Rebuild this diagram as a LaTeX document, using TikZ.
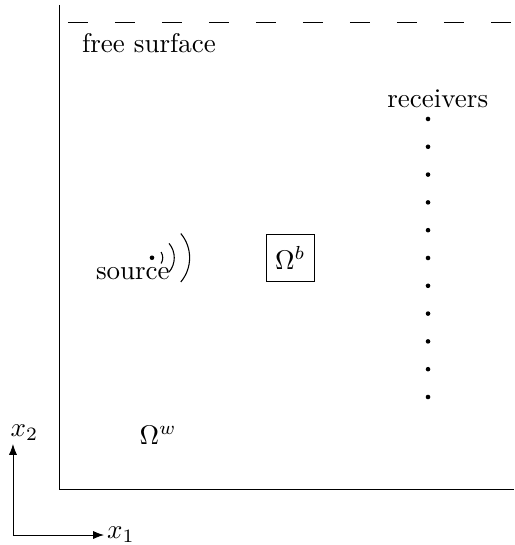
\documentclass[tikz,border=0pt]{standalone}
\usepackage{amsmath}
\usetikzlibrary{arrows.meta}

\begin{document}
\begin{tikzpicture}[scale=1.0, line width=0.3pt,
    recv/.style={circle, fill=black, inner sep=0pt, minimum size=1.7pt},
    wave/.style={line width=0.4pt}]
  \useasboundingbox (0,0) rectangle (6.693,7.096);

  %% Domain boundary (left and bottom)
  \draw (0.768,7.031) -- (0.768,0.729) -- (6.693,0.729);

  %% Free surface
  \draw[dash pattern=on 0.26cm off 0.352cm] (0.885,6.81) -- (6.65,6.81);
  \node (fs) at (1.94,6.535) {free surface};

  %% Receivers
  \node (rlab) at (5.70,5.81) {receivers};
  \foreach \i in {0,...,10}
    \node[recv] (r\i) at (5.573,5.547-0.362*\i) {};

  %% Inclusion
  \draw (3.464,3.438) rectangle (4.089,4.049);
  \node (ob) at (3.78,3.74) {$\Omega^b$};

  %% Source with wave fronts
  \node[recv] (src) at (1.979,3.74) {};
  \node (slab) at (1.73,3.535) {source};
  \draw[wave] (src) ++(-32:0.14) arc (-32:32:0.14);
  \draw[wave] (src) ++(-40:0.29) arc (-40:40:0.29);
  \draw[wave] (src) ++(-40:0.49) arc (-40:40:0.49);

  %% Background medium
  \node (ow) at (2.06,1.43) {$\Omega^w$};

  %% Axes
  \coordinate (o) at (0.169,0.130);
  \draw[-{Latex[length=4pt,width=3pt]}] (o) -- (1.354,0.130) node[right, inner sep=1pt] (e1) {$x_1$};
  \draw[-{Latex[length=4pt,width=3pt]}] (o) -- (0.169,1.315) node[above right, inner sep=0pt, xshift=-1pt, yshift=1pt] (e2) {$x_2$};
\end{tikzpicture}
\end{document}
